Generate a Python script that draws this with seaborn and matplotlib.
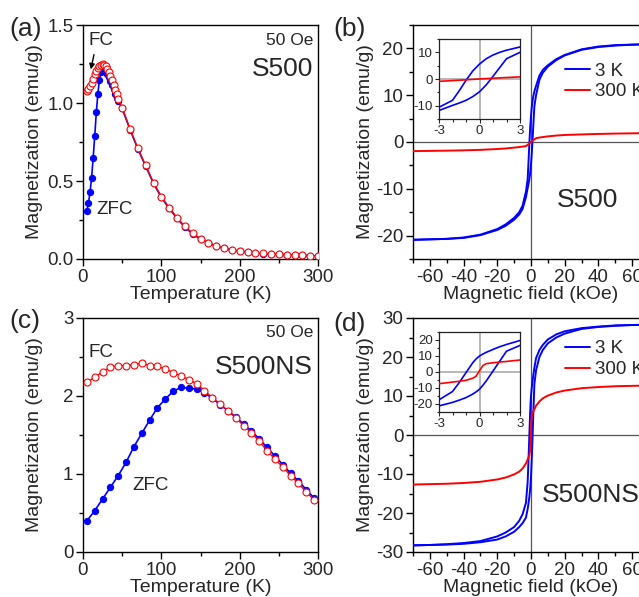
import numpy as np
import matplotlib
matplotlib.use("Agg")
import matplotlib.pyplot as plt
from matplotlib.ticker import AutoMinorLocator, MultipleLocator, FormatStrFormatter
import seaborn as sns

# ---------------- data ----------------
# (a) S500 ZFC / FC, 50 Oe
T_a = [5, 7, 9, 11, 13, 15, 17, 19, 21, 23, 25, 27, 29, 31, 33, 35, 37, 39, 41, 43, 45,
       50, 60, 70, 80, 90, 100, 110, 120, 130, 140, 150, 160, 170, 180, 190, 200,
       210, 220, 230, 240, 250, 260, 270, 280, 290, 300]
zfc_a = [0.31, 0.36, 0.43, 0.52, 0.65, 0.79, 0.94, 1.06, 1.15, 1.20, 1.215, 1.21, 1.20, 1.185,
         1.165, 1.14, 1.115, 1.09, 1.06, 1.035, 1.01,
         0.965, 0.83, 0.705, 0.595, 0.485, 0.395, 0.325, 0.26, 0.205, 0.16, 0.127, 0.102,
         0.082, 0.068, 0.057, 0.05, 0.044, 0.039, 0.035, 0.031, 0.03, 0.027, 0.025, 0.023,
         0.021, 0.02]
fc_a = [1.08, 1.09, 1.11, 1.13, 1.155, 1.185, 1.205, 1.225, 1.237, 1.246, 1.248, 1.245,
        1.235, 1.22, 1.20, 1.175, 1.145, 1.115, 1.085, 1.055, 1.025,
        0.97, 0.835, 0.71, 0.60, 0.49, 0.40, 0.33, 0.265, 0.21, 0.165, 0.13, 0.105,
        0.084, 0.07, 0.058, 0.052, 0.045, 0.04, 0.036, 0.032, 0.031, 0.028, 0.026, 0.024,
        0.021, 0.021]

# (c) S500NS ZFC / FC, 50 Oe
T_c = [5, 15, 25, 35, 45, 55, 65, 75, 85, 95, 105, 115, 125, 135, 145, 155, 165, 175,
       185, 195, 205, 215, 225, 235, 245, 255, 265, 275, 285, 295]
zfc_c = [0.40, 0.53, 0.68, 0.83, 0.98, 1.15, 1.35, 1.52, 1.69, 1.85, 1.96, 2.06, 2.11,
         2.10, 2.09, 2.04, 1.97, 1.89, 1.81, 1.73, 1.64, 1.55, 1.45, 1.34, 1.23, 1.12,
         1.01, 0.91, 0.80, 0.69]
fc_c = [2.175, 2.24, 2.31, 2.37, 2.39, 2.39, 2.40, 2.42, 2.39, 2.38, 2.35, 2.30, 2.26,
        2.21, 2.16, 2.07, 1.98, 1.90, 1.81, 1.72, 1.62, 1.53, 1.42, 1.30, 1.19, 1.09,
        0.98, 0.88, 0.77, 0.67]

# (b) S500 M-H loops
H_b = [-70, -60, -50, -40, -30, -20, -15, -10, -7, -5, -3, -2, -1.5, -1, -0.5, 0,
       0.5, 1, 1.5, 2, 3, 5, 7, 10, 15, 20, 30, 40, 50, 60, 70]
m3K_down_b = [-20.9, -20.8, -20.7, -20.4, -19.8, -18.6, -17.6, -16.2, -15.0, -13.6, -10.6,
              -8.0, -4.4, -0.5, 3.0, 5.6, 7.6, 9.0, 10.0, 10.8, 12.0, 14.2, 15.4, 16.4,
              17.7, 18.6, 19.8, 20.4, 20.7, 20.8, 20.9]
m3K_up_b = [-20.9, -20.8, -20.7, -20.5, -19.9, -18.8, -17.9, -16.6, -15.5, -14.3, -11.8,
            -9.9, -9.0, -8.0, -6.6, -4.8, -2.2, 1.0, 4.3, 7.6, 10.0, 13.3, 14.8, 16.1,
            17.5, 18.5, 19.7, 20.3, 20.6, 20.8, 20.9]
m300K_b = [-1.95, -1.9, -1.85, -1.78, -1.68, -1.5, -1.38, -1.2, -1.08, -0.98, -0.88, -0.6,
           -0.45, -0.3, -0.15, 0.0, 0.15, 0.3, 0.42, 0.55, 0.8, 0.95, 1.05, 1.2, 1.38,
           1.5, 1.62, 1.72, 1.8, 1.85, 1.9]

# (d) S500NS M-H loops
H_d = [-70, -60, -50, -40, -30, -20, -15, -10, -7, -5, -3, -2, -1.5, -1, -0.5, -0.25, 0,
       0.25, 0.5, 1, 1.5, 2, 3, 5, 7, 10, 15, 20, 30, 40, 50, 60, 70]
m3K_down_d = [-28.3, -28.2, -28.0, -27.7, -27.2, -26.0, -25.0, -23.6, -22.0, -20.3, -17.4,
              -12.2, -6.6, -0.4, 5.8, 8.2, 10.0, 11.2, 12.3, 14.1, 15.8, 17.2, 19.7, 21.8,
              23.1, 24.5, 25.8, 26.6, 27.4, 27.8, 28.1, 28.2, 28.3]
m3K_up_d = [-28.3, -28.2, -28.1, -27.9, -27.5, -26.8, -26.0, -24.8, -23.6, -22.6, -21.2,
            -19.0, -17.6, -16.0, -13.8, -12.4, -10.8, -8.3, -5.6, 0.6, 6.8, 13.0, 16.6,
            20.0, 21.8, 23.5, 25.0, 26.0, 27.2, 27.7, 28.0, 28.2, 28.3]
m300K_d = [-12.7, -12.6, -12.5, -12.3, -12.0, -11.4, -10.9, -10.1, -9.4, -8.6, -7.3, -6.3,
           -5.8, -5.2, -3.9, -2.6, 0.8, 4.0, 5.2, 5.8, 6.2, 6.6, 7.5, 8.6, 9.4, 10.1,
           10.9, 11.4, 12.0, 12.3, 12.5, 12.6, 12.7]

legend_labels = ["3 K", "300 K"]

# ---------------- style ----------------
sns.set_style("ticks")
plt.rcParams["font.family"] = ["Liberation Sans", "DejaVu Sans"]
plt.rcParams["axes.linewidth"] = 1.0
plt.rcParams["axes.edgecolor"] = "black"
plt.rcParams["axes.unicode_minus"] = False

BLUE = "#0000ff"
RED = "#ff0000"
W, H = 639, 597
fig = plt.figure(figsize=(W / 100, H / 100), dpi=100)

TICK_FS = 13.5
LABEL_FS = 14


def px_axes(left, top, right, bottom):
    return fig.add_axes([left / W, 1 - bottom / H, (right - left) / W, (bottom - top) / H])


def style_main(ax):
    ax.tick_params(which="major", direction="out", length=5, width=1.0, labelsize=TICK_FS,
                   color="black")
    ax.tick_params(axis="x", which="major", pad=2.5)
    ax.tick_params(axis="y", which="major", pad=2)
    ax.tick_params(which="minor", direction="out", length=3, width=1.0, color="black")
    ax.xaxis.set_minor_locator(AutoMinorLocator(2))
    ax.yaxis.set_minor_locator(AutoMinorLocator(2))
    for s in ax.spines.values():
        s.set_visible(True)
        s.set_linewidth(1.0)
        s.set_color("black")


ax_a = px_axes(83, 25, 318, 259)
ax_b = px_axes(413, 25, 649, 259)
ax_c = px_axes(83, 318, 318, 552)
ax_d = px_axes(413, 318, 649, 552)


def mt_panel(ax, T, zfc, fc, ylim, yticks, yfmt, minor_y):
    sns.lineplot(x=T, y=zfc, ax=ax, color=BLUE, marker="o", markersize=4.5,
                 markerfacecolor=BLUE, markeredgecolor=BLUE, linewidth=1.2,
                 estimator=None, zorder=3)
    sns.lineplot(x=T, y=fc, ax=ax, color=RED, marker="o", markersize=5,
                 markerfacecolor="white", markeredgecolor=RED, markeredgewidth=0.8,
                 linewidth=1.0, estimator=None, zorder=4)
    ax.set_xlim(0, 300)
    ax.set_ylim(*ylim)
    ax.set_xticks([0, 100, 200, 300])
    ax.set_yticks(yticks)
    ax.yaxis.set_major_formatter(FormatStrFormatter(yfmt))
    style_main(ax)
    ax.yaxis.set_minor_locator(MultipleLocator(minor_y))
    ax.set_xlabel("Temperature (K)", fontsize=LABEL_FS)
    ax.set_ylabel("Magnetization (emu/g)", fontsize=LABEL_FS)
    ax.xaxis.set_label_coords(0.5, -0.116)
    ax.yaxis.set_label_coords(-0.17, 0.5)


mt_panel(ax_a, T_a, zfc_a, fc_a, (0, 1.5), [0.0, 0.5, 1.0, 1.5], "%.1f", 0.25)
mt_panel(ax_c, T_c, zfc_c, fc_c, (0, 3), [0, 1, 2, 3], "%d", 0.5)

ax_a.text(0.979, 0.932, "50 Oe", transform=ax_a.transAxes, ha="right", va="center", fontsize=12.5)
ax_a.text(0.979, 0.81, "S500", transform=ax_a.transAxes, ha="right", va="center", fontsize=19)
ax_a.text(6.5, 1.40, "FC", ha="left", va="center", fontsize=13.5)
ax_a.annotate("", xy=(10.0, 1.215), xytext=(14.0, 1.31),
              arrowprops=dict(arrowstyle="-|>", color="black", lw=1.0,
                              mutation_scale=8, shrinkA=0, shrinkB=0))
ax_a.text(17.5, 0.32, "ZFC", ha="left", va="center", fontsize=13.5)

ax_c.text(0.979, 0.936, "50 Oe", transform=ax_c.transAxes, ha="right", va="center", fontsize=12.5)
ax_c.text(0.979, 0.79, "S500NS", transform=ax_c.transAxes, ha="right", va="center", fontsize=19)
ax_c.text(6.4, 2.56, "FC", ha="left", va="center", fontsize=13.5)
ax_c.text(63.5, 0.85, "ZFC", ha="left", va="center", fontsize=13.5)


def mh_panel(ax, Hf, down, up, m300, ylim, yticks, name, name_xy, leg_y, inset_box,
             inset_ylim, inset_yticks):
    ax.axhline(0, color="#555555", lw=0.9, zorder=1)
    ax.axvline(0, color="#555555", lw=0.9, zorder=1)
    sns.lineplot(x=Hf, y=down, ax=ax, color=BLUE, linewidth=1.4, estimator=None,
                 label=legend_labels[0], zorder=3)
    sns.lineplot(x=Hf, y=up, ax=ax, color=BLUE, linewidth=1.4, estimator=None, zorder=3)
    sns.lineplot(x=Hf, y=m300, ax=ax, color=RED, linewidth=1.4, estimator=None,
                 label=legend_labels[1], zorder=3)
    ax.set_xlim(-70, 70)
    ax.set_ylim(*ylim)
    ax.set_xticks([-60, -40, -20, 0, 20, 40, 60])
    ax.set_yticks(yticks)
    style_main(ax)
    ax.set_xlabel("Magnetic field (kOe)", fontsize=LABEL_FS)
    ax.set_ylabel("Magnetization (emu/g)", fontsize=LABEL_FS)
    ax.xaxis.set_label_coords(0.5, -0.116)
    ax.yaxis.set_label_coords(-0.165, 0.5)
    ax.legend(loc="upper left", bbox_to_anchor=(0.645, leg_y), frameon=False, fontsize=13.5,
              handlelength=1.3, handletextpad=0.3, labelspacing=0.2, borderpad=0,
              borderaxespad=0)
    ax.text(name_xy[0], name_xy[1], name, transform=ax.transAxes, ha="left", va="center",
            fontsize=19)

    ins = px_axes(*inset_box)
    ins.axhline(0, color="#aaaaaa", lw=1.2, zorder=1)
    ins.axvline(0, color="#aaaaaa", lw=1.2, zorder=1)
    sns.lineplot(x=Hf, y=down, ax=ins, color=BLUE, linewidth=1.2, estimator=None, zorder=3)
    sns.lineplot(x=Hf, y=up, ax=ins, color=BLUE, linewidth=1.2, estimator=None, zorder=3)
    sns.lineplot(x=Hf, y=m300, ax=ins, color=RED, linewidth=1.2, estimator=None, zorder=3)
    ins.set_xlim(-3, 3)
    ins.set_ylim(*inset_ylim)
    ins.set_xticks([-3, 0, 3])
    ins.set_yticks(inset_yticks)
    ins.xaxis.set_minor_locator(MultipleLocator(1))
    ins.yaxis.set_minor_locator(MultipleLocator(5))
    ins.tick_params(which="major", direction="out", length=3, width=0.8, labelsize=9.5, pad=1.5)
    ins.tick_params(which="minor", direction="out", length=1.8, width=0.8)
    for s in ins.spines.values():
        s.set_visible(True)
        s.set_linewidth(0.9)
        s.set_color("#222222")
    ins.set_xlabel("")
    ins.set_ylabel("")
    if ins.get_legend() is not None:
        ins.get_legend().remove()


mh_panel(ax_b, H_b, m3K_down_b, m3K_up_b, m300K_b, (-25, 25), [-20, -10, 0, 10, 20],
         "S500", (0.61, 0.252), 0.84, (439, 39, 520, 119), (-15, 15), [-10, 0, 10])
mh_panel(ax_d, H_d, m3K_down_d, m3K_up_d, m300K_d, (-30, 30), [-30, -20, -10, 0, 10, 20, 30],
         "S500NS", (0.547, 0.244), 0.905, (439, 332, 520, 412), (-25, 25),
         [-20, -10, 0, 10, 20])

# panel letters
for lab, x, y in [("(a)", 9, 29), ("(b)", 333, 29), ("(c)", 9, 321), ("(d)", 333, 324)]:
    fig.text(x / W, 1 - y / H, lab, ha="left", va="center", fontsize=19)

fig.savefig("out.png", dpi=100)
